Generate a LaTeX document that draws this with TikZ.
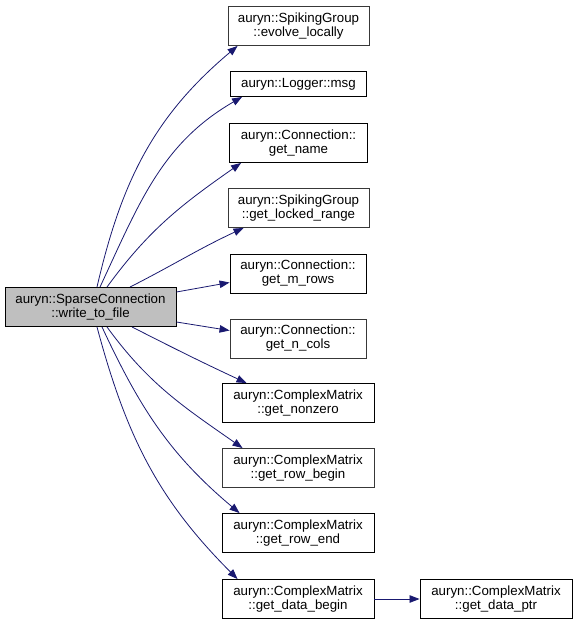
\documentclass[tikz,border=0pt]{standalone}
\usepackage{fontspec}
\setmainfont{Liberation Sans}
\usepackage{tikz}
\usetikzlibrary{arrows.meta}
\definecolor{edgeblue}{RGB}{25,25,112}
\tikzset{
  fn/.style={draw=black, fill=white, align=center, inner sep=1pt, line width=0.9pt,
    minimum height=39pt, font=\fontsize{13.3}{14}\selectfont},
  fngrey/.style={fn, draw=black!78},
  call/.style={draw=edgeblue, line width=0.8pt, -{Triangle[length=10pt,width=7.5pt]}}
}

\begin{document}
\begin{tikzpicture}[x=1pt, y=-1pt]
\useasboundingbox (0,0) rectangle (577,627);
\node [fn, fill=black!25, minimum width=171pt] (main) at (90.5,307) {auryn::SparseConnection\\::write\_to\_file};
\node [fngrey, minimum width=141pt] (evolve) at (298.5,26) {auryn::SpikingGroup\\::evolve\_locally};
\node [fn, minimum width=136pt, minimum height=25pt] (msg) at (298.5,84) {auryn::Logger::msg};
\node [fn, minimum width=138pt] (name) at (298.5,143) {auryn::Connection::\\get\_name};
\node [fngrey, minimum width=141pt] (locked) at (298.5,208) {auryn::SpikingGroup\\::get\_locked\_range};
\node [fn, minimum width=136pt] (mrows) at (298,273.5) {auryn::Connection::\\get\_m\_rows};
\node [fngrey, minimum width=136pt] (ncols) at (298,338.5) {auryn::Connection::\\get\_n\_cols};
\node [fn, minimum width=152pt] (nonzero) at (298,403) {auryn::ComplexMatrix\\::get\_nonzero};
\node [fngrey, minimum width=152pt] (rowbegin) at (298,468) {auryn::ComplexMatrix\\::get\_row\_begin};
\node [fn, minimum width=152pt] (rowend) at (298,533) {auryn::ComplexMatrix\\::get\_row\_end};
\node [fn, minimum width=152pt] (databegin) at (298,599) {auryn::ComplexMatrix\\::get\_data\_begin};
\node [fn, minimum width=152pt] (dataptr) at (496,599) {auryn::ComplexMatrix\\::get\_data\_ptr};
\draw [call] ([xshift=6.5pt]main.north) to[out=77, in=-140] ([xshift=10pt]evolve.south west);
\draw [call] ([xshift=9.5pt]main.north) to[out=65, in=-150] ([xshift=12pt]msg.south west);
\draw [call] ([xshift=16.5pt]main.north) to[out=54, in=-145] ([xshift=12pt]name.south west);
\draw [call] ([xshift=39.5pt]main.north) to[out=27, in=-155] ([xshift=16pt]locked.south west);
\draw [call] ([yshift=15pt]main.east) -- ([yshift=-9pt]mrows.west);
\draw [call] ([yshift=-15pt]main.east) -- ([yshift=8pt]ncols.west);
\draw [call] ([xshift=41.5pt]main.south) to[out=-27, in=155] ([xshift=25pt]nonzero.north west);
\draw [call] ([xshift=16.5pt]main.south) to[out=-54, in=145] ([xshift=21pt]rowbegin.north west);
\draw [call] ([xshift=11.5pt]main.south) to[out=-65, in=140] ([xshift=18pt]rowend.north west);
\draw [call] ([xshift=6.5pt]main.south) to[out=-75, in=135] ([xshift=16pt]databegin.north west);
\draw [call] (databegin) -- (dataptr);
\end{tikzpicture}
\end{document}
